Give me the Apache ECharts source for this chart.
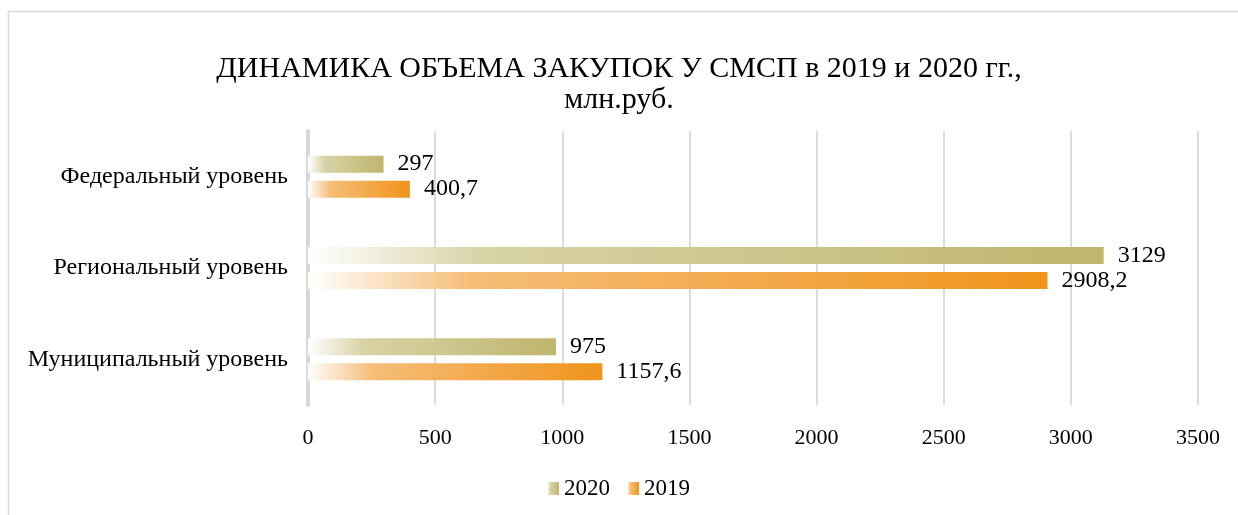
<!DOCTYPE html>
<html>
<head>
<meta charset="utf-8">
<script src="https://cdn.jsdelivr.net/npm/echarts@6/dist/echarts.min.js"></script>
<style>
html,body{margin:0;padding:0;background:#fff;}
#chart{width:1238px;height:515px;}
</style>
</head>
<body>
<div id="chart"></div>
<script>
const categories = ['Федеральный уровень', 'Региональный уровень', 'Муниципальный уровень'];
const values2020 = [297, 3129, 975];
const values2019 = [400.7, 2908.2, 1157.6];
const labels2020 = ['297', '3129', '975'];
const labels2019 = ['400,7', '2908,2', '1157,6'];
const xTicks = [0, 500, 1000, 1500, 2000, 2500, 3000, 3500];

const FONT = '"Liberation Serif", "Times New Roman", serif';

function grad(c0, c1, c2) {
  return new echarts.graphic.LinearGradient(0, 0, 1, 0, [
    {offset: 0, color: c0},
    {offset: 0.22, color: c1},
    {offset: 1, color: c2}
  ]);
}
const olive = grad('#ffffff', '#d8d3a6', '#bfb56d');
const orange = grad('#ffffff', '#f5bd78', '#f0941b');
const oliveIcon = grad('#f4f1df', '#d8d3a6', '#bfb56d');
const orangeIcon = grad('#fdebd2', '#f5bd78', '#f0941b');

const chart = echarts.init(document.getElementById('chart'), null, {renderer: 'canvas'});
chart.setOption({
  animation: false,
  backgroundColor: '#fff',
  graphic: [{
    type: 'rect',
    shape: {x: 8.5, y: 11.5, width: 1300, height: 600},
    style: {fill: 'none', stroke: '#d9d9d9', lineWidth: 1.5},
    silent: true
  }],
  title: {
    text: 'ДИНАМИКА ОБЪЕМА ЗАКУПОК У СМСП в 2019 и 2020 гг.,\nмлн.руб.',
    left: 'center',
    top: 49,
    textStyle: {
      fontFamily: FONT,
      fontSize: 30,
      fontWeight: 'normal',
      color: '#000',
      lineHeight: 31,
      align: 'center'
    }
  },
  legend: {
    bottom: 10,
    left: 'center',
    itemWidth: 11,
    itemHeight: 13,
    itemGap: 18,
    textStyle: {fontFamily: FONT, fontSize: 23, color: '#000'},
    data: [
      {name: '2020', icon: 'rect', itemStyle: {color: oliveIcon}},
      {name: '2019', icon: 'rect', itemStyle: {color: orangeIcon}}
    ]
  },
  grid: {left: 308, right: 40, top: 131, bottom: 110, containLabel: false},
  xAxis: {
    type: 'value',
    min: 0,
    max: 3500,
    interval: 500,
    axisLine: {show: false},
    axisTick: {show: false},
    splitLine: {show: true, lineStyle: {color: '#d0d0d0', width: 1.5}},
    axisLabel: {
      fontFamily: FONT, fontSize: 22, color: '#000', margin: 22,
      formatter: function (v) { return xTicks.indexOf(v) >= 0 ? String(v) : ''; }
    }
  },
  yAxis: {
    type: 'category',
    data: categories,
    inverse: true,
    axisLine: {show: true, lineStyle: {color: '#d9d9d9', width: 4}},
    axisTick: {show: false},
    axisLabel: {fontFamily: FONT, fontSize: 24, color: '#000', margin: 20}
  },
  series: [
    {
      name: '2020',
      type: 'bar',
      data: values2020,
      barWidth: 17,
      barGap: '47%',
      itemStyle: {color: olive},
      label: {
        show: true, position: 'right', distance: 14,
        fontFamily: FONT, fontSize: 24, color: '#000',
        formatter: function (p) { return labels2020[p.dataIndex]; }
      }
    },
    {
      name: '2019',
      type: 'bar',
      data: values2019,
      barWidth: 17,
      itemStyle: {color: orange},
      label: {
        show: true, position: 'right', distance: 14,
        fontFamily: FONT, fontSize: 24, color: '#000',
        formatter: function (p) { return labels2019[p.dataIndex]; }
      }
    }
  ]
});
</script>
</body>
</html>
